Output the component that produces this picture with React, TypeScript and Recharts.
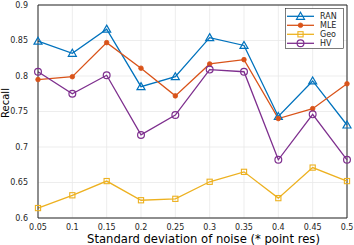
import { LineChart, Line, XAxis, YAxis, CartesianGrid, ReferenceLine } from 'recharts';

const noise = [0.05, 0.1, 0.15, 0.2, 0.25, 0.3, 0.35, 0.4, 0.45, 0.5];
const ran = [0.849, 0.832, 0.866, 0.785, 0.799, 0.854, 0.843, 0.743, 0.793, 0.731];
const mle = [0.795, 0.799, 0.847, 0.811, 0.772, 0.817, 0.823, 0.740, 0.754, 0.789];
const geo = [0.614, 0.632, 0.652, 0.625, 0.627, 0.651, 0.665, 0.628, 0.671, 0.652];
const hv = [0.806, 0.775, 0.801, 0.717, 0.745, 0.809, 0.806, 0.682, 0.746, 0.682];
const yTicks = [0.6, 0.65, 0.7, 0.75, 0.8, 0.85, 0.9];

const data = noise.map((x, i) => ({ x, ran: ran[i], mle: mle[i], geo: geo[i], hv: hv[i] }));

const FONT = '"DejaVu Sans", sans-serif';
const AXIS = '#262626';

type Marker = 'tri' | 'star' | 'square' | 'circle';

const series: { key: string; name: string; color: string; marker: Marker }[] = [
  { key: 'ran', name: 'RAN', color: '#0072BD', marker: 'tri' },
  { key: 'mle', name: 'MLE', color: '#D95319', marker: 'star' },
  { key: 'geo', name: 'Geo', color: '#EDB120', marker: 'square' },
  { key: 'hv', name: 'HV', color: '#7E2F8E', marker: 'circle' },
];

function drawMarker(kind: Marker, cx: number, cy: number, color: string, key?: string | number) {
  if (kind === 'tri') {
    return (
      <path key={key} d={`M${cx},${cy - 4} L${cx + 4},${cy + 3} L${cx - 4},${cy + 3} Z`} fill="none" stroke={color} strokeWidth={1.2} />
    );
  }
  if (kind === 'star') {
    return <circle key={key} cx={cx} cy={cy} r={2.3} fill={color} stroke={color} strokeWidth={0.8} />;
  }
  if (kind === 'square') {
    return <rect key={key} x={cx - 2.6} y={cy - 2.6} width={5.2} height={5.2} fill="none" stroke={color} strokeWidth={1.1} />;
  }
  return <circle key={key} cx={cx} cy={cy} r={3.4} fill="none" stroke={color} strokeWidth={1.2} />;
}

// legend box drawn over the plot, top right (MATLAB style)
function LegendBox() {
  return (
    <svg width={60} height={42} style={{ position: 'absolute', left: 285, top: 8 }}>
      <rect x={0.5} y={0.5} width={58} height={40} fill="#fff" stroke={AXIS} strokeWidth={0.6} />
      {series.map((s, i) => {
        const y = 8.3 + i * 9;
        return (
          <g key={s.key}>
            <line x1={2} x2={29} y1={y} y2={y} stroke={s.color} strokeWidth={1.3} />
            {drawMarker(s.marker, 15.5, y, s.color)}
            <text x={35} y={y + 3} fontSize={8} fontFamily={FONT} fill={AXIS}>
              {s.name}
            </text>
          </g>
        );
      })}
    </svg>
  );
}

export default function App() {
  return (
    <div style={{ position: 'absolute', left: 0, top: 0, width: 354, height: 245, background: '#fff' }}>
      <LineChart width={354} height={245} data={data} margin={{ top: 5, right: 7, left: 0, bottom: 0 }}>
        <CartesianGrid stroke="#e8e8e8" strokeWidth={0.8} />
        <XAxis
          dataKey="x"
          type="number"
          domain={[0.05, 0.5]}
          ticks={noise}
          tickFormatter={(v: number) => String(v)}
          tick={{ fontSize: 8, fontFamily: FONT, fill: AXIS }}
          stroke={AXIS}
          tickLine={false}
          tickMargin={0}
          height={27}
          label={{ value: 'Standard deviation of noise (* point res)', position: 'insideBottom', offset: 2, dx: 11, fontSize: 11.6, fontFamily: FONT, fill: '#000' }}
        />
        <YAxis
          type="number"
          domain={[0.6, 0.9]}
          ticks={yTicks}
          tickFormatter={(v: number) => String(v)}
          tick={{ fontSize: 8, fontFamily: FONT, fill: AXIS }}
          stroke={AXIS}
          tickLine={false}
          tickMargin={4}
          width={38}
          label={{
            value: 'Recall',
            content: () => (
              <text transform="rotate(-90, 9, 103)" x={9} y={103} textAnchor="middle" fontSize={10} fontFamily={FONT} fill="#000">
                Recall
              </text>
            ),
          }}
        />
        <ReferenceLine y={0.9} stroke={AXIS} strokeWidth={1} />
        <ReferenceLine x={0.5} stroke={AXIS} strokeWidth={1} />
        {series.map((s) => (
          <Line
            key={s.key}
            dataKey={s.key}
            name={s.name}
            type="linear"
            stroke={s.color}
            strokeWidth={1.3}
            isAnimationActive={false}
            dot={(p: any) => drawMarker(s.marker, p.cx, p.cy, s.color, p.index)}
            activeDot={false}
          />
        ))}
      </LineChart>
      <LegendBox />
    </div>
  );
}
